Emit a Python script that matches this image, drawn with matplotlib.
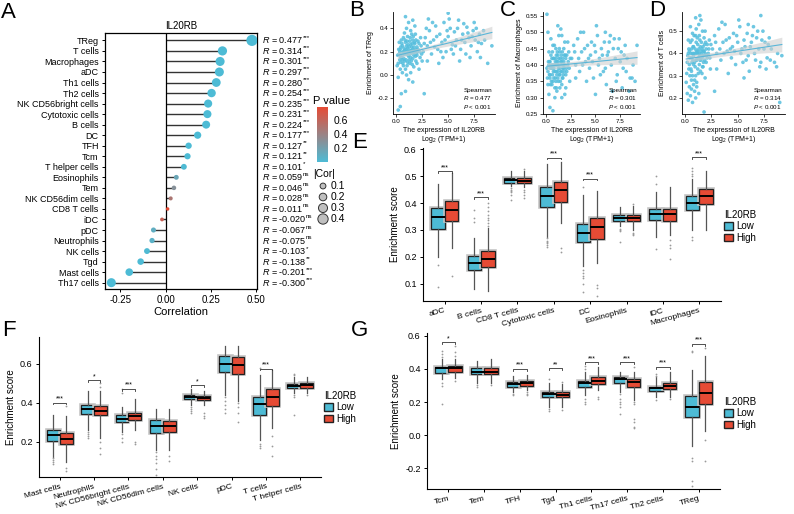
import numpy as np
import matplotlib
matplotlib.use('Agg')
import matplotlib.pyplot as plt
from matplotlib.colors import LinearSegmentedColormap, Normalize
from matplotlib.cm import ScalarMappable
from matplotlib.patches import Patch
import matplotlib.patheffects as pe
import matplotlib.transforms as mtransforms

plt.rcParams['font.family'] = ['Liberation Sans', 'DejaVu Sans']
plt.rcParams['mathtext.fontset'] = 'custom'
plt.rcParams['mathtext.rm'] = 'Liberation Sans'
plt.rcParams['mathtext.it'] = 'Liberation Sans:italic'
plt.rcParams['mathtext.bf'] = 'Liberation Sans:bold'

# ---------------- Panel A data ----------------
a_cells = ["TReg", "T cells", "Macrophages", "aDC", "Th1 cells", "Th2 cells",
           "NK CD56bright cells", "Cytotoxic cells", "B cells", "DC", "TFH", "Tcm",
           "T helper cells", "Eosinophils", "Tem", "NK CD56dim cells", "CD8 T cells",
           "iDC", "pDC", "Neutrophils", "NK cells", "Tgd", "Mast cells", "Th17 cells"]
a_corr = [0.477, 0.314, 0.301, 0.297, 0.280, 0.254, 0.235, 0.231, 0.224, 0.177, 0.127,
          0.121, 0.101, 0.059, 0.046, 0.028, 0.011, -0.020, -0.067, -0.075, -0.103,
          -0.138, -0.201, -0.300]
a_pval = [0, 0, 0, 0, 0, 0, 0, 0, 0, 0, 0.002, 0.003, 0.01, 0.15, 0.29, 0.48, 0.78,
          0.62, 0.10, 0.07, 0.012, 0.001, 0, 0]
a_stars = ["***"] * 10 + ["**", "**", "*", "ns", "ns", "ns", "ns", "ns", "ns", "ns",
                          "*", "**", "***", "***"]
a_xticks = [-0.25, 0.0, 0.25, 0.50]
a_xticklabels = ["-0.25", "0.00", "0.25", "0.50"]
cbar_ticks = [0.2, 0.4, 0.6]
size_legend = [0.1, 0.2, 0.3, 0.4]

# ---------------- Scatter data (B, C, D) ----------------
b_points = [(0.3,0.18),(0.4,0.22),(0.5,0.15),(0.6,0.25),(0.7,0.20),(0.8,0.12),(0.9,0.28),(1.0,0.18),
    (1.1,0.23),(1.2,0.16),(1.3,0.21),(1.4,0.26),(1.5,0.19),(1.6,0.14),(1.7,0.24),(1.8,0.20),(1.9,0.30),
    (2.0,0.17),(2.1,0.22),(2.2,0.27),(0.5,0.30),(0.7,0.08),(0.9,0.05),(1.1,0.33),(1.3,0.10),(1.5,0.35),
    (1.7,0.07),(1.9,0.12),(2.3,0.15),(2.4,0.25),(0.2,0.10),(0.3,0.28),(0.6,0.02),(0.8,0.36),(1.0,0.40),
    (1.2,0.45),(1.4,0.38),(1.6,0.30),(1.8,0.42),(0.4,0.05),(0.2,-0.02),(0.1,0.08),(1.0,0.0),(1.2,-0.04),
    (1.4,0.02),(1.6,-0.06),(0.9,0.50),(1.6,0.47),(2.0,0.10),(2.2,0.05),(0.6,0.13),(0.7,0.32),(1.1,0.11),
    (1.3,0.29),(1.5,0.24),(1.7,0.17),(1.9,0.22),(2.1,0.29),(0.4,0.16),(0.8,0.21),(1.0,0.25),(1.2,0.20),
    (1.4,0.15),(1.6,0.22),(1.8,0.27),(2.0,0.24),(0.2,-0.30),(0.4,-0.27),(0.5,-0.16),(0.9,-0.14),(2.7,-0.16),
    (2.6,0.20),(2.8,0.32),(3.0,0.25),(3.2,0.38),(3.4,0.18),(3.6,0.30),(3.8,0.42),(4.0,0.22),(4.2,0.35),
    (4.4,0.28),(4.6,0.45),(4.8,0.20),(5.0,0.33),(5.2,0.40),(5.4,0.26),(5.6,0.37),(5.8,0.30),(6.0,0.47),
    (6.2,0.22),(6.4,0.35),(6.6,0.28),(6.8,0.41),(7.0,0.32),(7.2,0.25),(7.4,0.38),(7.6,0.30),(7.8,0.20),
    (8.0,0.35),(8.2,0.27),(8.5,0.30),(8.8,0.10),(9.2,0.25),(3.0,0.12),(3.5,0.45),(4.1,0.10),(4.5,0.15),
    (5.1,0.48),(5.5,0.18),(6.1,0.12),(6.5,0.44),(7.1,0.15),(7.5,0.45),(8.1,0.15),(2.9,0.40),(3.3,0.28),
    (3.9,0.33),(4.3,0.20),(4.9,0.38),(5.3,0.22),(5.9,0.40),(6.3,0.30),(6.9,0.36),(7.3,0.33),(7.9,0.28),
    (5.0,0.53),(2.5,0.12),(2.7,0.27),(3.7,0.24),(4.7,0.30),(5.7,0.25),(6.7,0.18),(7.7,0.40),(8.4,0.38),
    (3.1,0.48)]
b_points_dense = [(0.35,0.20),(0.45,0.24),(0.55,0.19),(0.65,0.17),(0.75,0.23),(0.85,0.18),(0.95,0.22),
    (1.05,0.20),(1.15,0.17),(1.25,0.24),(1.35,0.18),(1.45,0.21),(1.55,0.27),(1.65,0.19),(1.75,0.21),
    (1.85,0.16),(1.95,0.19),(2.05,0.20),(0.55,0.27),(0.65,0.10),(0.75,0.14),(0.85,0.30),(0.95,0.13),
    (1.05,0.29),(1.15,0.26),(1.25,0.13),(1.35,0.32),(1.45,0.12),(1.55,0.09),(1.65,0.33),(1.75,0.28),
    (1.85,0.35),(0.45,0.11),(0.35,0.13),(0.25,0.22),(0.15,0.17),(2.25,0.20),(2.35,0.32),(2.45,0.18),
    (1.05,0.08)]
c_points = [(0.3,0.40),(0.4,0.37),(0.5,0.43),(0.6,0.39),(0.7,0.35),(0.8,0.42),(0.9,0.38),(1.0,0.45),
    (1.1,0.41),(1.2,0.36),(1.3,0.40),(1.4,0.44),(1.5,0.38),(1.6,0.34),(1.7,0.42),(1.8,0.39),(1.9,0.47),
    (2.0,0.37),(2.1,0.43),(2.2,0.40),(0.5,0.48),(0.7,0.46),(0.9,0.33),(1.1,0.32),(1.3,0.49),(1.5,0.51),
    (1.7,0.36),(1.9,0.31),(2.3,0.44),(2.4,0.35),(0.2,0.38),(0.3,0.44),(0.6,0.34),(0.8,0.36),(1.0,0.40),
    (1.2,0.43),(1.4,0.39),(1.6,0.41),(1.8,0.45),(0.4,0.41),(0.2,0.34),(0.1,0.39),(1.0,0.35),(1.2,0.38),
    (1.4,0.33),(1.6,0.30),(1.2,0.52),(1.6,0.49),(2.0,0.33),(2.2,0.47),(0.6,0.42),(0.7,0.40),(1.1,0.37),
    (1.3,0.42),(1.5,0.41),(1.7,0.39),(1.9,0.40),(2.1,0.38),(0.4,0.36),(0.8,0.39),(1.0,0.42),(1.2,0.41),
    (1.4,0.37),(1.6,0.38),(1.8,0.41),(2.0,0.42),(0.1,0.555),(0.4,0.27),(0.7,0.26),(0.3,0.31),(0.2,0.50),
    (0.9,0.30),(2.6,0.42),(2.8,0.46),(3.0,0.40),(3.2,0.48),(3.4,0.38),(3.6,0.44),(3.8,0.50),(4.0,0.41),
    (4.2,0.46),(4.4,0.39),(4.6,0.47),(4.8,0.36),(5.0,0.44),(5.2,0.49),(5.4,0.42),(5.6,0.45),(5.8,0.38),
    (6.0,0.50),(6.2,0.43),(6.4,0.47),(6.6,0.40),(6.8,0.45),(7.0,0.42),(7.2,0.37),(7.4,0.48),(7.6,0.44),
    (7.8,0.39),(8.0,0.46),(8.2,0.42),(8.5,0.36),(8.8,0.40),(9.2,0.46),(3.0,0.36),(3.5,0.50),(4.1,0.35),
    (4.5,0.43),(5.1,0.52),(5.5,0.37),(6.1,0.34),(6.5,0.49),(7.1,0.35),(7.5,0.41),(8.1,0.38),(2.9,0.44),
    (3.3,0.42),(3.9,0.45),(4.3,0.42),(4.9,0.46),(5.3,0.40),(5.9,0.47),(6.3,0.44),(6.9,0.48),(7.3,0.45),
    (7.9,0.43),(5.0,0.31),(8.4,0.32),(7.7,0.33),(6.7,0.32),(8.7,0.36),(9.0,0.35),(4.7,0.41),(5.7,0.43),
    (3.7,0.40),(6.0,0.39)]
c_points_dense = [(0.35,0.41),(0.45,0.39),(0.55,0.40),(0.65,0.37),(0.75,0.42),(0.85,0.40),(0.95,0.41),
    (1.05,0.38),(1.15,0.40),(1.25,0.39),(1.35,0.37),(1.45,0.42),(1.55,0.40),(1.65,0.36),(1.75,0.40),
    (1.85,0.38),(1.95,0.43),(2.05,0.39),(0.55,0.35),(0.65,0.44),(0.75,0.38),(0.85,0.46),(0.95,0.36),
    (1.05,0.43),(1.15,0.44),(1.25,0.35),(1.35,0.45),(1.45,0.35),(1.55,0.43),(1.65,0.44),(1.75,0.37),
    (1.85,0.43),(0.45,0.34),(0.35,0.37),(0.25,0.41),(0.15,0.36),(2.25,0.41),(2.35,0.39),(2.45,0.42),
    (1.05,0.33)]
d_points = [(0.3,0.40),(0.4,0.35),(0.5,0.45),(0.6,0.38),(0.7,0.30),(0.8,0.43),(0.9,0.36),(1.0,0.48),
    (1.1,0.41),(1.2,0.33),(1.3,0.40),(1.4,0.46),(1.5,0.37),(1.6,0.31),(1.7,0.43),(1.8,0.39),(1.9,0.50),
    (2.0,0.36),(2.1,0.44),(2.2,0.40),(0.5,0.52),(0.7,0.49),(0.9,0.28),(1.1,0.27),(1.3,0.53),(1.5,0.55),
    (1.7,0.34),(1.9,0.29),(2.3,0.46),(2.4,0.33),(0.2,0.36),(0.3,0.46),(0.6,0.32),(0.8,0.35),(1.0,0.40),
    (1.2,0.44),(1.4,0.39),(1.6,0.42),(1.8,0.47),(0.4,0.41),(0.1,0.27),(0.2,0.22),(0.3,0.19),(0.4,0.25),
    (0.5,0.21),(0.6,0.24),(0.7,0.18),(0.8,0.26),(0.9,0.23),(1.0,0.20),(1.1,0.25),(1.3,0.22),(1.0,0.30),
    (0.6,0.28),(1.8,0.137),(2.8,0.23),(9.0,0.18),(0.6,0.42),(0.7,0.40),(1.1,0.37),(1.3,0.42),(1.5,0.41),
    (1.7,0.39),(1.9,0.40),(2.1,0.38),(0.8,0.39),(1.2,0.41),(1.4,0.37),(1.6,0.38),(1.8,0.41),(2.0,0.42),
    (1.0,0.56),(1.4,0.57),(2.6,0.42),(2.8,0.48),(3.0,0.40),(3.2,0.51),(3.4,0.37),(3.6,0.45),(3.8,0.53),
    (4.0,0.41),(4.2,0.47),(4.4,0.38),(4.6,0.49),(4.8,0.35),(5.0,0.45),(5.2,0.52),(5.4,0.42),(5.6,0.46),
    (5.8,0.37),(6.0,0.53),(6.2,0.43),(6.4,0.48),(6.6,0.40),(6.8,0.47),(7.0,0.42),(7.2,0.36),(7.4,0.50),
    (7.6,0.45),(7.8,0.38),(8.0,0.47),(8.2,0.42),(8.5,0.36),(8.8,0.40),(9.2,0.39),(3.0,0.33),(3.5,0.54),
    (4.1,0.31),(4.5,0.43),(5.1,0.55),(5.5,0.36),(6.1,0.32),(6.5,0.52),(7.1,0.34),(7.5,0.42),(8.1,0.37),
    (2.9,0.45),(3.3,0.42),(3.9,0.46),(4.3,0.42),(4.9,0.48),(5.3,0.40),(5.9,0.49),(6.3,0.45),(6.9,0.50),
    (7.3,0.46),(7.9,0.44),(5.6,0.29),(7.7,0.33),(6.7,0.37),(8.7,0.34),(4.7,0.41),(5.7,0.43),(3.7,0.40),
    (6.0,0.39),(7.2,0.57)]
d_points_dense = [(0.35,0.42),(0.45,0.38),(0.55,0.40),(0.65,0.36),(0.75,0.43),(0.85,0.40),(0.95,0.42),
    (1.05,0.37),(1.15,0.40),(1.25,0.38),(1.35,0.35),(1.45,0.43),(1.55,0.40),(1.65,0.34),(1.75,0.41),
    (1.85,0.37),(1.95,0.45),(2.05,0.39),(0.55,0.33),(0.65,0.46),(0.75,0.37),(0.85,0.48),(0.95,0.34),
    (1.05,0.45),(1.15,0.47),(1.25,0.31),(1.35,0.48),(1.45,0.32),(1.55,0.45),(1.65,0.50),(1.75,0.36),
    (1.85,0.44),(0.45,0.30),(0.35,0.33),(0.25,0.39),(0.15,0.31),(2.25,0.42),(2.35,0.38),(2.45,0.44),
    (1.05,0.51)]
scatter_xticks = [0.0, 2.5, 5.0, 7.5]
b_yticks = [-0.2, 0.0, 0.2, 0.4]
c_yticks = [0.25, 0.30, 0.35, 0.40, 0.45, 0.50, 0.55]
d_yticks = [0.2, 0.3, 0.4, 0.5]

# ---------------- Box data (E, F, G): [whislo, q1, med, q3, whishi] ----------------
e_cats = ["aDC", "B cells", "CD8 T cells", "Cytotoxic cells", "DC", "Eosinophils", "iDC", "Macrophages"]
e_low = [[0.20, 0.304, 0.349, 0.380, 0.470], [0.080, 0.152, 0.175, 0.201, 0.27],
         [0.463, 0.475, 0.485, 0.494, 0.518], [0.275, 0.386, 0.426, 0.460, 0.547],
         [0.164, 0.254, 0.288, 0.321, 0.43], [0.315, 0.333, 0.345, 0.356, 0.387],
         [0.273, 0.338, 0.360, 0.379, 0.44], [0.30, 0.375, 0.40, 0.425, 0.49]]
e_low_out = [[0.17, 0.086], [0.375, 0.345, 0.33], [0.455, 0.45, 0.445, 0.44, 0.43, 0.41],
             [0.27, 0.26, 0.255, 0.25, 0.245, 0.235], [0.46, 0.15, 0.14, 0.13, 0.12, 0.10, 0.067],
             [0.305, 0.30, 0.295, 0.255], [0.47, 0.50, 0.23], [0.50, 0.51, 0.52, 0.53, 0.273, 0.261]]
e_high = [[0.232, 0.333, 0.375, 0.407, 0.512], [0.072, 0.160, 0.192, 0.222, 0.306],
          [0.46, 0.473, 0.483, 0.493, 0.52], [0.325, 0.405, 0.448, 0.479, 0.553],
          [0.177, 0.267, 0.310, 0.343, 0.444], [0.30, 0.334, 0.344, 0.355, 0.39],
          [0.28, 0.333, 0.36, 0.379, 0.46], [0.30, 0.397, 0.425, 0.452, 0.52]]
e_high_out = [[0.127], [0.40, 0.385, 0.37, 0.355, 0.345, 0.335, 0.325, 0.315],
              [0.525, 0.45, 0.44, 0.43, 0.42], [0.234, 0.216], [0.096, 0.085, 0.053],
              [0.398, 0.29, 0.285, 0.28], [0.261, 0.243, 0.231, 0.19], []]
e_sig = ["***", "***", "", "***", "***", "", "", "***"]
e_sig_y = [0.518, 0.421, None, 0.569, 0.491, None, None, 0.57]
e_yticks = [0.1, 0.2, 0.3, 0.4, 0.5, 0.6]

f_cats = ["Mast cells", "Neutrophils", "NK CD56bright cells", "NK CD56dim cells", "NK cells",
          "pDC", "T cells", "T helper cells"]
f_low = [[0.123, 0.205, 0.234, 0.260, 0.337], [0.26, 0.345, 0.37, 0.39, 0.46],
         [0.25, 0.30, 0.315, 0.335, 0.38], [0.16, 0.245, 0.28, 0.31, 0.37],
         [0.39, 0.42, 0.43, 0.44, 0.47], [0.44, 0.56, 0.60, 0.64, 0.69],
         [0.21, 0.34, 0.395, 0.43, 0.54], [0.45, 0.475, 0.485, 0.495, 0.53]]
f_low_out = [[0.115, 0.105, 0.095, 0.085], [0.25, 0.24, 0.23, 0.22], [0.24, 0.22, 0.20, 0.45, 0.47],
             [0.15, 0.13, 0.11, 0.09, 0.06, 0.03], [0.38, 0.37, 0.36, 0.35],
             [0.43, 0.41, 0.39, 0.37, 0.35], [0.19, 0.18, 0.17, 0.58], [0.54, 0.55, 0.44, 0.43, 0.34]]
f_high = [[0.098, 0.188, 0.217, 0.246, 0.33], [0.22, 0.335, 0.36, 0.385, 0.46],
          [0.26, 0.31, 0.33, 0.35, 0.42], [0.16, 0.25, 0.28, 0.305, 0.37],
          [0.39, 0.415, 0.425, 0.435, 0.46], [0.41, 0.545, 0.595, 0.635, 0.69],
          [0.27, 0.385, 0.43, 0.47, 0.57], [0.45, 0.475, 0.49, 0.50, 0.53]]
f_high_out = [[0.383, 0.065, 0.051], [0.50, 0.48, 0.20, 0.17, 0.14], [0.20, 0.19], [0.13, 0.10],
              [0.35, 0.33, 0.32], [0.40, 0.38, 0.35, 0.30], [0.23, 0.18, 0.13], [0.44]]
f_sig = ["***", "*", "***", "", "*", "", "***", ""]
f_sig_y = [0.40, 0.515, 0.47, None, 0.49, None, 0.575, None]
f_yticks = [0.2, 0.4, 0.6]

g_cats = ["Tcm", "Tem", "TFH", "Tgd", "Th1 cells", "Th17 cells", "Th2 cells", "TReg"]
g_low = [[0.337, 0.378, 0.404, 0.414, 0.459], [0.317, 0.368, 0.384, 0.404, 0.449],
         [0.262, 0.293, 0.307, 0.319, 0.357], [0.171, 0.232, 0.246, 0.262, 0.313],
         [0.242, 0.293, 0.313, 0.329, 0.384], [0.262, 0.313, 0.341, 0.353, 0.384],
         [0.232, 0.266, 0.283, 0.293, 0.353], [-0.068, 0.110, 0.171, 0.236, 0.394]]
g_low_out = [[0.47, 0.49, 0.51, 0.313, 0.297, 0.187], [0.30, 0.29], [0.25, 0.24], [0.34, 0.16, 0.145],
             [0.40, 0.42, 0.22, 0.20, 0.19], [0.25, 0.22, 0.20, 0.19, 0.17, 0.13], [0.36, 0.37, 0.21],
             [0.50, 0.51, -0.14, -0.16, -0.28, -0.31]]
g_high = [[0.343, 0.384, 0.404, 0.418, 0.459], [0.317, 0.368, 0.384, 0.404, 0.459],
          [0.272, 0.299, 0.313, 0.329, 0.364], [0.171, 0.228, 0.242, 0.258, 0.309],
          [0.272, 0.309, 0.329, 0.349, 0.414], [0.212, 0.289, 0.319, 0.339, 0.38],
          [0.232, 0.276, 0.297, 0.313, 0.384], [0.025, 0.187, 0.256, 0.319, 0.481]]
g_high_out = [[0.48, 0.50, 0.54, 0.33], [0.30], [0.26, 0.25, 0.24], [0.32, 0.15], [0.23, 0.22],
              [0.41, 0.20, 0.19, 0.10, 0.08, 0.05, 0.04], [0.22], [0.53, -0.03, -0.16]]
g_sig = ["*", "", "***", "**", "***", "***", "***", "***"]
g_sig_y = [0.562, None, 0.40, 0.404, 0.44, 0.44, 0.414, 0.552]
g_yticks = [-0.2, 0.0, 0.2, 0.4, 0.6]

BLUE = '#4DBBD5'
RED = '#E64B35'
PT_BLUE = '#55BEDD'

W, H = 794, 514
fig = plt.figure(figsize=(W / 100, H / 100), dpi=100)


def px_axes(l, t, r, b):
    return fig.add_axes([l / W, 1 - b / H, (r - l) / W, (b - t) / H])


def fig_text(x, y, s, **kw):
    return fig.text(x / W, 1 - y / H, s, **kw)


# ---------------- Panel A ----------------
axA = px_axes(105, 33, 257, 289)
ypos = np.arange(len(a_cells))
for i, r in enumerate(a_corr):
    axA.plot([0, r], [i, i], color='#333333', lw=1.0, zorder=1, solid_capstyle='butt')
axA.axvline(0, color='black', lw=0.9, zorder=2)
cmap = LinearSegmentedColormap.from_list('pv', [BLUE, RED])
norm = Normalize(0, max(a_pval))


def cor_size(v):
    v = np.abs(np.asarray(v, dtype=float))
    return 5 + 125 * v


axA.scatter(a_corr, ypos, s=cor_size(a_corr), c=a_pval, cmap=cmap, norm=norm,
            zorder=3, edgecolors='none')
axA.set_ylim(23.6, -0.7)
axA.set_xlim(-0.335, 0.505)
axA.set_yticks(ypos)
axA.set_yticklabels(a_cells, fontsize=6.5)
axA.set_xticks(a_xticks)
axA.set_xticklabels(a_xticklabels, fontsize=7)
axA.tick_params(length=2.5, width=0.7, pad=2)
axA.set_xlabel('Correlation', fontsize=8, labelpad=1)
axA.set_title('IL20RB', fontsize=7, pad=3)
for s in axA.spines.values():
    s.set_linewidth(0.9)
trans = mtransforms.blended_transform_factory(axA.transAxes, axA.transData)
for i, (r, st) in enumerate(zip(a_corr, a_stars)):
    t = axA.text(1.03, i, r'$\it{R}$ = %.3f' % r, transform=trans, fontsize=6.5,
                 va='center', ha='left')
    axA.annotate(st, xy=(1.0, 0.8), xycoords=t, fontsize=4.5, va='center', ha='left')

# colorbar legend
fig_text(313, 101, 'P value', fontsize=8, va='center', ha='left')
cax = px_axes(317, 107, 328, 162)
cb = fig.colorbar(ScalarMappable(norm=norm, cmap=cmap), cax=cax, ticks=cbar_ticks)
cb.outline.set_visible(False)
cax.tick_params(length=2, width=0.6, color='white', labelsize=7.5, pad=2)
cax.set_yticklabels(['%.1f' % v for v in cbar_ticks])

# size legend
fig_text(313, 174, '|Cor|', fontsize=7.5, va='center', ha='left')
lax = px_axes(310, 178, 350, 226)
lax.set_xlim(310, 350)
lax.set_ylim(226, 178)
lax.axis('off')
ly = [186, 197, 208, 219]
lax.scatter([323] * 4, ly, s=cor_size(size_legend), facecolor='#BFBFBF',
            edgecolor='#333333', linewidth=0.7)
for v, yy in zip(size_legend, ly):
    lax.text(331, yy, '%.1f' % v, fontsize=7.5, va='center', ha='left')


# ---------------- Scatter panels ----------------
def scatter_panel(ax, pts, ylabel, rtxt, ylim, yticks, yfmt):
    xs = np.array([p[0] for p in pts])
    ys = np.array([p[1] for p in pts])
    ax.scatter(xs, ys, s=7, color=PT_BLUE, alpha=0.85, edgecolors='none', zorder=2)
    coef = np.polyfit(xs, ys, 1)
    xx = np.linspace(xs.min(), xs.max(), 60)
    yy = np.polyval(coef, xx)
    resid = ys - np.polyval(coef, xs)
    n = len(xs)
    s_err = np.sqrt(np.sum(resid ** 2) / (n - 2))
    se = s_err * np.sqrt(1 / n + (xx - xs.mean()) ** 2 / np.sum((xs - xs.mean()) ** 2))
    ax.fill_between(xx, yy - 1.97 * se, yy + 1.97 * se, color='#D0D0D0', alpha=0.6,
                    lw=0, zorder=3)
    ax.plot(xx, yy, color='#5AB6D8', lw=0.8, zorder=4)
    ax.spines['top'].set_visible(False)
    ax.spines['right'].set_visible(False)
    for s in ['left', 'bottom']:
        ax.spines[s].set_linewidth(0.6)
    ax.set_xlim(-0.3, 9.5)
    ax.set_ylim(*ylim)
    ax.set_xticks(scatter_xticks)
    ax.set_xticklabels(['%.1f' % v for v in scatter_xticks])
    ax.set_yticks(yticks)
    ax.set_yticklabels([yfmt % v for v in yticks])
    ax.tick_params(labelsize=4.5, length=2, width=0.5, pad=1.5)
    ax.set_ylabel(ylabel, fontsize=5, labelpad=2)
    ax.set_xlabel('The expression of IL20RB\nLog$_2$ (TPM+1)', fontsize=5, labelpad=2,
                  linespacing=1.1)
    ax.text(0.97, 0.03, 'Spearman\n$\\it{R}$ = %s\n$\\it{P}$ < 0.001' % rtxt,
            transform=ax.transAxes, ha='right', va='bottom', fontsize=4.5,
            linespacing=1.15, zorder=5)


axB = px_axes(393, 12, 495, 114)
scatter_panel(axB, b_points + b_points_dense, 'Enrichment of TReg', '0.477', (-0.334, 0.54),
              b_yticks, '%.1f')
axC = px_axes(543, 12, 640, 114)
scatter_panel(axC, c_points + c_points_dense, 'Enrichment of Macrophages', '0.301', (0.252, 0.562),
              c_yticks, '%.2f')
axD = px_axes(682, 12, 785, 114)
scatter_panel(axD, d_points + d_points_dense, 'Enrichment of T cells', '0.314', (0.128, 0.586),
              d_yticks, '%.1f')


# ---------------- Box panels ----------------
def box_panel(ax, cats, low, high, low_out, high_out, sig, sig_y, ylim, yticks):
    n = len(cats)
    pos = np.arange(n)
    w = 0.375
    for stats_list, outs, off, color in [(low, low_out, -w / 2, BLUE), (high, high_out, w / 2, RED)]:
        st = [dict(whislo=s[0], q1=s[1], med=s[2], q3=s[3], whishi=s[4], fliers=o)
              for s, o in zip(stats_list, outs)]
        ax.bxp(st, positions=pos + off, widths=w, patch_artist=True, showcaps=False,
               manage_ticks=False,
               boxprops=dict(facecolor=color, edgecolor='#222222', linewidth=0.9,
                             path_effects=[pe.withStroke(linewidth=2.6, foreground='#C4C4C4')]),
               medianprops=dict(color='black', linewidth=1.4, solid_capstyle='butt'),
               whiskerprops=dict(color='#555555', linewidth=0.9),
               flierprops=dict(marker='o', markersize=1.3, markerfacecolor='#9A9A9A',
                               markeredgecolor='none'))
    rng = ylim[1] - ylim[0]
    d = 0.012 * rng
    for i, (sg, yv) in enumerate(zip(sig, sig_y)):
        if not sg:
            continue
        ax.plot([i - w / 2, i - w / 2, i + w / 2, i + w / 2], [yv - d, yv, yv, yv - d],
                color='#333333', lw=0.6)
        ax.text(i, yv + 0.002 * rng, sg, ha='center', va='bottom', fontsize=5)
    ax.set_xlim(-0.6, n - 0.4)
    ax.set_ylim(*ylim)
    ax.set_xticks(pos)
    ax.set_xticklabels(cats, rotation=15, ha='right', rotation_mode='anchor', fontsize=6)
    ax.set_yticks(yticks)
    ax.set_yticklabels(['%.1f' % v for v in yticks], fontsize=6.5)
    ax.spines['top'].set_visible(False)
    ax.spines['right'].set_visible(False)
    for s in ['left', 'bottom']:
        ax.spines[s].set_linewidth(0.8)
    ax.tick_params(length=2.5, width=0.7, pad=2)
    ax.set_ylabel('Enrichment score', fontsize=7, labelpad=3)


def box_legend(x, y):
    handles = [Patch(facecolor=BLUE, edgecolor='#222222', label='Low'),
               Patch(facecolor=RED, edgecolor='#222222', label='High')]
    leg = fig.legend(handles=handles, title='IL20RB', loc='upper left',
                     bbox_to_anchor=(x / W, 1 - y / H), frameon=False, fontsize=7,
                     title_fontsize=7, handlelength=0.9, handleheight=0.8,
                     borderaxespad=0, borderpad=0, labelspacing=0.15, handletextpad=0.4)
    leg._legend_box.align = 'left'


axE = px_axes(423, 148, 721, 301)
box_panel(axE, e_cats, e_low, e_high, e_low_out, e_high_out, e_sig, e_sig_y, (0.035, 0.605), e_yticks)
box_legend(724, 210)

axF = px_axes(39, 337, 321, 477)
box_panel(axF, f_cats, f_low, f_high, f_low_out, f_high_out, f_sig, f_sig_y, (0.02, 0.737), f_yticks)
box_legend(324, 391)

axG = px_axes(427, 333, 720, 489)
box_panel(axG, g_cats, g_low, g_high, g_low_out, g_high_out, g_sig, g_sig_y, (-0.327, 0.618), g_yticks)
box_legend(724, 397)

# ---------------- Panel letters ----------------
for letter, (x, y) in {'A': (8, 12), 'B': (357, 11), 'C': (508, 11), 'D': (657, 11),
                       'E': (360, 143), 'F': (9, 330), 'G': (360, 330)}.items():
    fig_text(x, y, letter, fontsize=16, ha='center', va='center')

fig.savefig('out.png', dpi=100)
